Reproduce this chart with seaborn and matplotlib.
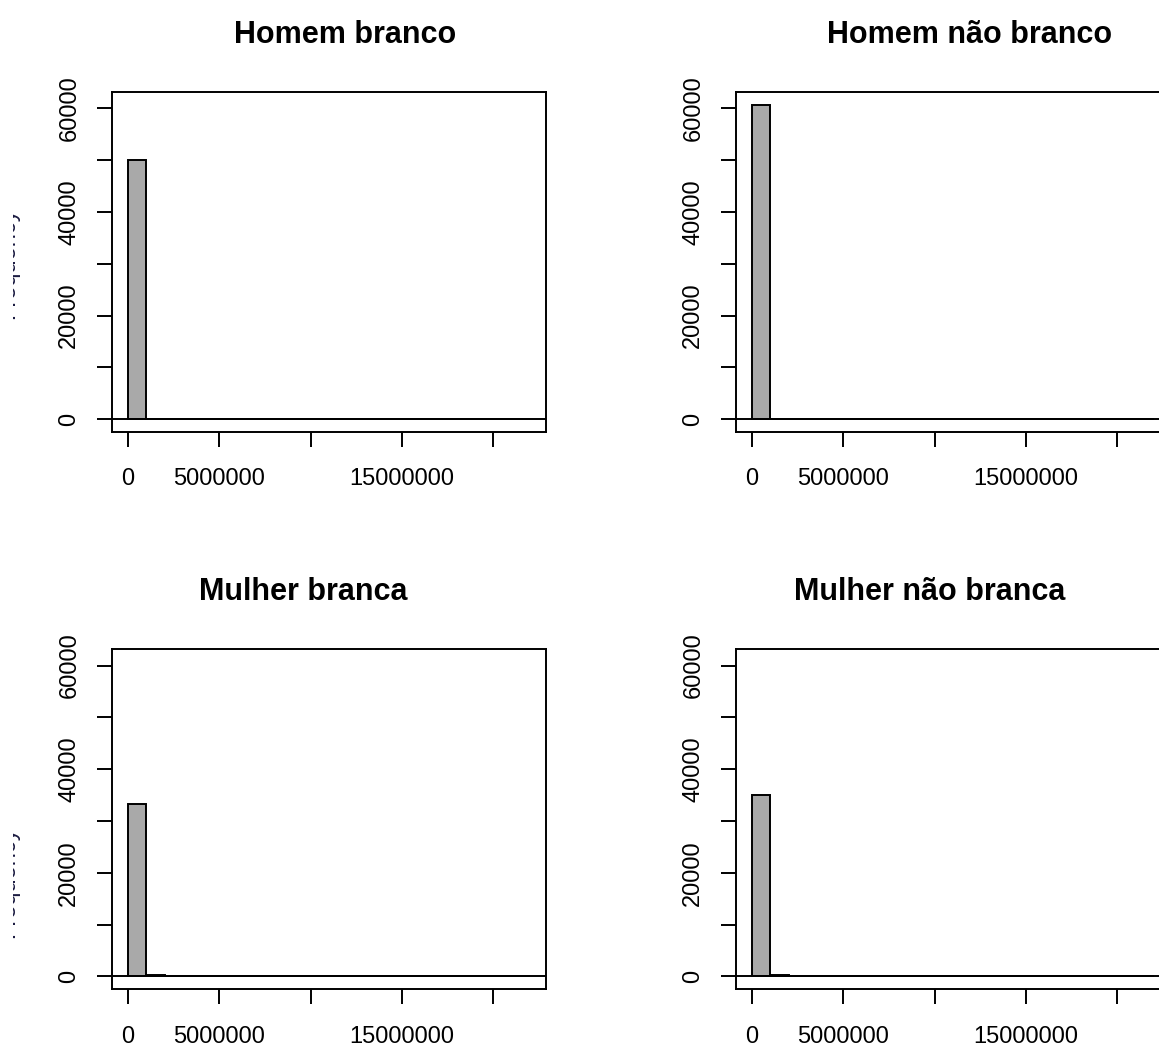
import numpy as np
import pandas as pd
import matplotlib
matplotlib.use("Agg")
import matplotlib.pyplot as plt
from matplotlib.transforms import Bbox
import seaborn as sns

# ---- data ----
titles = ["Homem branco", "Homem não branco", "Mulher branca", "Mulher não branca"]
bin_edges = [i * 1_000_000 for i in range(23)]          # 0 .. 22e6, width 1e6
counts_homem_branco     = [50000, 120, 15, 6, 3, 2, 1, 1, 0, 0, 0, 0, 0, 0, 0, 0, 0, 0, 0, 0, 0, 1]
counts_homem_nao_branco = [60700, 90, 10, 4, 2, 1, 1, 0, 0, 0, 0, 0, 0, 0, 0, 0, 0, 0, 0, 0, 0, 1]
counts_mulher_branca    = [33300, 320, 20, 6, 3, 1, 1, 0, 0, 0, 0, 0, 0, 0, 0, 0, 0, 0, 0, 0, 0, 1]
counts_mulher_nao_branca= [35100, 300, 18, 5, 2, 1, 1, 0, 0, 0, 0, 0, 0, 0, 0, 0, 0, 0, 0, 0, 0, 1]
all_counts = [counts_homem_branco, counts_homem_nao_branco, counts_mulher_branca, counts_mulher_nao_branca]

x_ticks = [0, 5_000_000, 10_000_000, 15_000_000, 20_000_000]
x_tick_labels = ["0", "5000000", "", "15000000", ""]
y_ticks = [0, 10000, 20000, 30000, 40000, 50000, 60000]
y_tick_labels = ["0", "", "20000", "", "40000", "", "60000"]
y_label = "Frequency"

# ---- style ----
sns.set_style("white")
plt.rcParams["font.family"] = ["Liberation Sans", "DejaVu Sans"]

W, H = 1159, 1048
DPI = 100
fig = plt.figure(figsize=(W / DPI, H / DPI), dpi=DPI)
fig.patch.set_facecolor("white")

def px_axes(left, top, right, bottom):
    return fig.add_axes([left / W, 1 - bottom / H, (right - left) / W, (bottom - top) / H])

boxes = [
    (112, 92.3, 546, 431.7),
    (736, 92.3, 1170, 431.7),
    (112, 649.3, 546, 989.0),
    (736, 649.3, 1170, 989.0),
]
title_pos = [(345.5, 43.3), (970, 43.3), (303, 600), (930, 600)]

ymax = max(max(c) for c in all_counts)
xr = bin_edges[-1] - bin_edges[0]
LW = 1.4
FS = 17

for i, (box, title, counts) in enumerate(zip(boxes, titles, all_counts)):
    ax = px_axes(*box)
    df = pd.DataFrame({"x": [e + 500_000 for e in bin_edges[:-1]], "n": counts})
    sns.histplot(data=df, x="x", weights="n", bins=bin_edges, stat="count",
                 color="#A9A9A9", edgecolor="black", linewidth=LW, alpha=1.0, ax=ax)
    ax.axhline(0, color="black", linewidth=LW, zorder=3)
    ax.set_xlim(bin_edges[0] - 0.04 * xr, bin_edges[-1] + 0.04 * xr)
    ax.set_ylim(-0.04 * ymax, 1.04 * ymax)
    ax.set_xticks(x_ticks)
    ax.set_xticklabels(x_tick_labels)
    ax.set_yticks(y_ticks)
    ax.set_yticklabels(y_tick_labels, rotation=90, va="center")
    ax.set_xlabel("")
    ax.set_ylabel("")
    ax.tick_params(axis="both", direction="out", length=10.8, width=LW,
                   color="black", labelsize=FS, labelcolor="black", bottom=True, left=True)
    ax.tick_params(axis="x", pad=15.5)
    ax.tick_params(axis="y", pad=12)
    for s in ax.spines.values():
        s.set_visible(True)
        s.set_color("black")
        s.set_linewidth(LW)
    ax.grid(False)
    tx, ty = title_pos[i]
    fig.text(tx / W, 1 - ty / H, title, ha="center", va="baseline",
             fontsize=22, fontweight="bold", color="black")

# y-axis labels at the far left edge, mostly cut off as in the reference
clip = Bbox.from_extents(13, 0, 60, H)
for yc in (263, 882):
    t = fig.text(19 / W, 1 - yc / H, y_label, rotation=90, ha="right", va="center",
                 fontsize=FS, color="#1a1a40")
    t.set_clip_box(clip)
    t.set_clip_on(True)

fig.savefig("out.png", dpi=DPI, facecolor="white")
